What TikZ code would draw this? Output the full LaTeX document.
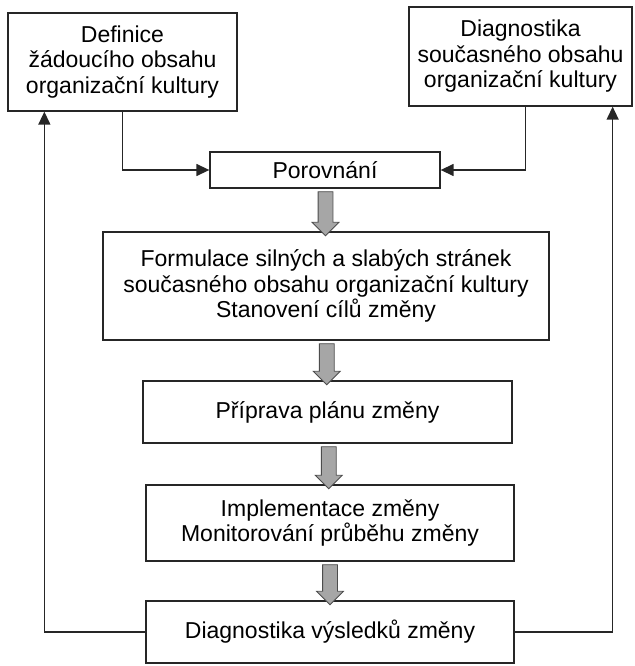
\documentclass[tikz,border=0pt]{standalone}
\usepackage{fontspec}
\setmainfont{Liberation Sans}
\usetikzlibrary{arrows.meta,shapes.arrows,calc}
\begin{document}
\begin{tikzpicture}[x=1pt, y=-1pt,
        every node/.style = {shape=rectangle, draw=black!85, line width=1.3pt,
        align=center, inner sep=0pt, font=\fontsize{23}{25.5}\selectfont},
        feed/.style = {draw=black!85, line width=1.4pt,
        -{Triangle[length=13pt, width=12pt]}},
        grayarrow/.style = {single arrow, draw=black!70, fill=black!35,
        line width=0.8pt, single arrow head extend=6pt, inner sep=7pt,
        shape border rotate=270}]
    \useasboundingbox (0,0) rectangle (634,666);
    \node[minimum width=229, minimum height=98] (defin) at (122.5,62)
        {Definice\\ žádoucího obsahu\\ organizační kultury};
    \node[minimum width=223, minimum height=99] (diag) at (520.5,56.5)
        {Diagnostika\\ současného obsahu\\ organizační kultury};
    \node[minimum width=230, minimum height=36] (porov) at (325,170) {Porovnání};
    \node[minimum width=446, minimum height=108] (formul) at (326,286)
        {Formulace silných a slabých stránek\\ současného obsahu organizační kultury\\ Stanovení cílů změny};
    \node[minimum width=369, minimum height=62] (prip) at (327.5,412) {Příprava plánu změny};
    \node[minimum width=368, minimum height=76] (impl) at (330,523)
        {Implementace změny\\ Monitorování průběhu změny};
    \node[minimum width=368, minimum height=62] (vysl) at (330,632) {Diagnostika výsledků změny};

    % gray arrows down the chain
    \node[grayarrow, minimum height=44] at ($(porov.south)!0.5!(formul.north)$) {};
    \node[grayarrow, minimum height=41] at ($(formul.south)!0.5!(prip.north)$) {};
    \node[grayarrow, minimum height=42] at ($(prip.south)!0.5!(impl.north)$) {};
    \node[grayarrow, minimum height=40] at ($(impl.south)!0.5!(vysl.north)$) {};

    % inputs to the comparison
    \draw[feed] (defin.south) |- (porov.west);
    \draw[feed] ([xshift=5]diag.south) |- (porov.east);

    % feedback loops
    \draw[feed] (vysl.west) -| ([xshift=37]defin.south west);
    \draw[feed] (vysl.east) -| ([xshift=-20]diag.south east);
\end{tikzpicture}
\end{document}
